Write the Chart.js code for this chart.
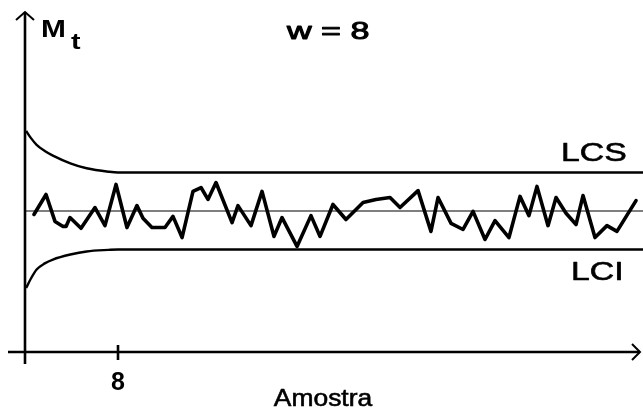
<!DOCTYPE html>
<html>
<head>
<meta charset="utf-8">
<script src="https://cdn.jsdelivr.net/npm/chart.js@4.4.1/dist/chart.umd.min.js"></script>
<style>
  html, body { margin: 0; padding: 0; background: #fff; }
  #wrap { width: 643px; height: 412px; }
</style>
</head>
<body>
<div id="wrap"><canvas id="c" width="643" height="412"></canvas></div>
<script>
// Moving-average control chart, window w = 8
const windowSize = 8;
const xTicks = [8];
const xMax = 53.16;

// sample index and moving average M_t (centre line = 0)
const sampleT = [0.77, 1.81, 2.58, 3.27, 3.53, 3.87, 4.82, 6.02, 6.88, 7.83, 8.77, 9.63, 10.15, 10.92, 12.04,
  12.73, 13.51, 14.45, 15.14, 15.74, 16.43, 17.81, 18.32, 19.44, 20.39, 21.42, 22.11, 23.40, 24.60, 25.38,
  26.49, 27.61, 29.08, 30.19, 31.40, 32.26, 33.81, 34.92, 35.53, 36.65, 37.68, 38.54, 39.57, 40.43, 41.63,
  42.58, 43.35, 44.04, 44.99, 45.68, 46.54, 47.40, 48.00, 49.03, 50.06, 50.92, 52.56];
const movingAvg = [-0.09, 0.43, -0.27, -0.40, -0.40, -0.17, -0.45, 0.09, -0.38, 0.69, -0.43, 0.14, -0.19, -0.43, -0.43,
  -0.14, -0.69, 0.51, 0.61, 0.30, 0.74, -0.30, 0.14, -0.38, 0.51, -0.66, -0.17, -0.92, -0.12, -0.66,
  0.17, -0.22, 0.22, 0.30, 0.35, 0.09, 0.53, -0.53, 0.35, -0.32, -0.48, -0.01, -0.74, -0.25, -0.69,
  0.38, -0.12, 0.64, -0.38, 0.35, -0.06, -0.35, 0.40, -0.69, -0.38, -0.53, 0.27];

// control limits: wider for the first samples, constant once t >= w
const limitT = [0.1, 0.5, 1.0, 1.7, 2.4, 3.9, 5.3, 7.2, 8, xMax];
const lcs = [2.08, 1.90, 1.72, 1.56, 1.44, 1.24, 1.11, 1.02, 1.0, 1.0];
const lci = [-2.0, -1.76, -1.52, -1.36, -1.26, -1.13, -1.05, -1.01, -1.0, -1.0];
const centre = 0;

const pts = (xs, ys) => xs.map((x, i) => ({ x, y: ys[i] }));

function stretchText(ctx, str, x, y, font, sx, align, weight) {
  ctx.save();
  ctx.font = font;
  ctx.fillStyle = '#000';
  ctx.strokeStyle = '#000';
  ctx.lineWidth = weight || 0;
  ctx.lineJoin = 'round';
  ctx.textBaseline = 'alphabetic';
  const w = ctx.measureText(str).width * sx;
  let left = x;
  if (align === 'center') left = x - w / 2;
  ctx.translate(left, y);
  ctx.scale(sx, 1);
  ctx.textAlign = 'left';
  ctx.fillText(str, 0, 0);
  if (weight) ctx.strokeText(str, 0, 0);
  ctx.restore();
}

const axesPlugin = {
  id: 'arrowAxes',
  afterDatasetsDraw(chart) {
    const { ctx, scales: { x, y } } = chart;
    const x0 = x.getPixelForValue(0);
    const y0 = y.getPixelForValue(y.min);
    const yTop = 12;
    const xEnd = 640;
    ctx.save();
    ctx.strokeStyle = '#000';
    ctx.lineWidth = 2.6;
    ctx.lineCap = 'butt';
    // y axis with arrow
    ctx.beginPath();
    ctx.moveTo(x0, y0 + 12);
    ctx.lineTo(x0, yTop);
    ctx.stroke();
    ctx.lineWidth = 2;
    ctx.beginPath();
    ctx.moveTo(x0 - 9, yTop + 8);
    ctx.lineTo(x0, yTop);
    ctx.lineTo(x0 + 9, yTop + 8);
    ctx.stroke();
    // x axis with arrow
    ctx.lineWidth = 2.6;
    ctx.beginPath();
    ctx.moveTo(8, y0);
    ctx.lineTo(xEnd, y0);
    ctx.stroke();
    ctx.lineWidth = 2;
    ctx.beginPath();
    ctx.moveTo(xEnd - 8, y0 - 8);
    ctx.lineTo(xEnd, y0);
    ctx.lineTo(xEnd - 8, y0 + 8);
    ctx.stroke();
    // tick marks
    ctx.lineWidth = 2.6;
    xTicks.forEach(v => {
      const px = x.getPixelForValue(v);
      ctx.beginPath();
      ctx.moveTo(px, y0 - 7);
      ctx.lineTo(px, y0 + 8);
      ctx.stroke();
    });
    ctx.restore();

    // labels
    stretchText(ctx, 'M', 41, 37, 'bold 23px "Liberation Sans"', 1.3, 'left');
    stretchText(ctx, 't', 71, 49, 'bold 22px "Liberation Sans"', 1.3, 'left');
    stretchText(ctx, 'w = ' + windowSize, 287, 39, '24px "Liberation Sans"', 1.42, 'left', 1.0);
    stretchText(ctx, 'LCS', 561, 161, '25px "Liberation Sans"', 1.35, 'left', 0.6);
    stretchText(ctx, 'LCI', 571, 280, '25px "Liberation Sans"', 1.35, 'left', 0.6);
    stretchText(ctx, 'Amostra', 323, 406, '24px "Liberation Sans"', 1.1, 'center', 0.6);
  }
};

new Chart(document.getElementById('c'), {
  type: 'line',
  data: {
    datasets: [
      { data: pts([0, xMax], [centre, centre]), borderColor: '#000', borderWidth: 1.2, pointRadius: 0 },
      { data: pts(limitT, lcs), borderColor: '#000', borderWidth: 2.4, pointRadius: 0, cubicInterpolationMode: 'monotone' },
      { data: pts(limitT, lci), borderColor: '#000', borderWidth: 2.4, pointRadius: 0, cubicInterpolationMode: 'monotone' },
      { data: pts(sampleT, movingAvg), borderColor: '#000', borderWidth: 3.6, pointRadius: 0, borderJoinStyle: 'round', borderCapStyle: 'round' }
    ]
  },
  options: {
    responsive: false,
    animation: false,
    events: [],
    layout: { padding: { left: 25, right: 0, top: 15, bottom: 0 } },
    plugins: { legend: { display: false }, tooltip: { enabled: false } },
    scales: {
      x: {
        type: 'linear', min: 0, max: xMax,
        grid: { display: false, drawTicks: false },
        border: { display: false },
        afterBuildTicks: s => { s.ticks = xTicks.map(v => ({ value: v })); },
        afterFit: s => { s.height = 60; },
        ticks: { color: '#000', font: { family: 'Liberation Sans', size: 25, weight: 'bold' }, padding: 16, maxRotation: 0 }
      },
      y: {
        type: 'linear', min: -3.662, max: 5.091,
        display: false
      }
    }
  },
  plugins: [axesPlugin]
});
</script>
</body>
</html>
